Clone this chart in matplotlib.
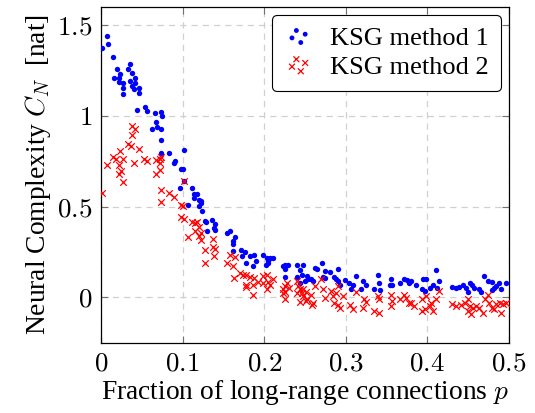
import matplotlib
matplotlib.use("Agg")
import matplotlib.pyplot as plt
from matplotlib.ticker import FuncFormatter

plt.rcParams['font.family'] = ['Liberation Serif', 'DejaVu Serif']
plt.rcParams['mathtext.fontset'] = 'cm'

# KSG method 1 (blue dots)
p1 = [0.007, 0.009, 0.001, 0.015, 0.020, 0.023, 0.016, 0.022, 0.022, 0.027,
      0.027, 0.027, 0.035, 0.033, 0.038, 0.042, 0.036, 0.041, 0.038, 0.040,
      0.046, 0.047, 0.044, 0.054, 0.056, 0.066, 0.073, 0.075, 0.067, 0.068,
      0.062, 0.073, 0.073, 0.073, 0.083, 0.102, 0.091, 0.089, 0.098, 0.100,
      0.102, 0.097, 0.112, 0.114, 0.118, 0.114, 0.120, 0.122, 0.122, 0.120,
      0.106, 0.124, 0.127, 0.129, 0.130, 0.136, 0.140, 0.138, 0.140, 0.155,
      0.158, 0.164, 0.162, 0.162, 0.162, 0.172, 0.176, 0.173, 0.178, 0.182,
      0.186, 0.188, 0.190, 0.199, 0.203, 0.207, 0.205, 0.211, 0.202, 0.205,
      0.223, 0.225, 0.229, 0.225, 0.240, 0.247, 0.244, 0.252, 0.226, 0.250,
      0.244, 0.240, 0.246, 0.254, 0.258, 0.260, 0.262, 0.265, 0.271, 0.274,
      0.281, 0.290, 0.272, 0.275, 0.286, 0.288, 0.290, 0.293, 0.299, 0.304,
      0.309, 0.307, 0.312, 0.321, 0.325, 0.319, 0.335, 0.339, 0.341, 0.342,
      0.356, 0.357, 0.354, 0.366, 0.372, 0.375, 0.378, 0.380, 0.386, 0.393,
      0.395, 0.399, 0.397, 0.403, 0.407, 0.412, 0.411, 0.414, 0.430, 0.435,
      0.439, 0.444, 0.448, 0.450, 0.452, 0.455, 0.457, 0.463, 0.466, 0.470,
      0.475, 0.480, 0.482, 0.479, 0.484, 0.488, 0.490, 0.497]
c1 = [1.441, 1.399, 1.372, 1.326, 1.256, 1.231, 1.207, 1.207, 1.189, 1.183,
      1.156, 1.121, 1.284, 1.258, 1.238, 1.207, 1.194, 1.183, 1.166, 1.147,
      1.152, 1.125, 1.035, 1.048, 1.027, 1.018, 1.020, 1.002, 0.965, 0.941,
      0.929, 0.929, 0.868, 0.798, 0.798, 0.813, 0.754, 0.740, 0.707, 0.707,
      0.639, 0.603, 0.603, 0.571, 0.570, 0.548, 0.538, 0.529, 0.520, 0.505,
      0.511, 0.474, 0.419, 0.414, 0.364, 0.429, 0.407, 0.383, 0.374, 0.355,
      0.368, 0.333, 0.309, 0.295, 0.254, 0.264, 0.249, 0.227, 0.190, 0.227,
      0.172, 0.236, 0.199, 0.231, 0.218, 0.218, 0.199, 0.218, 0.181, 0.190,
      0.172, 0.181, 0.176, 0.154, 0.176, 0.181, 0.150, 0.117, 0.112, 0.090,
      0.081, 0.114, 0.126, 0.103, 0.099, 0.090, 0.163, 0.154, 0.190, 0.145,
      0.139, 0.154, 0.114, 0.108, 0.114, 0.099, 0.090, 0.071, 0.095, 0.081,
      0.066, 0.048, 0.117, 0.090, 0.071, 0.048, 0.044, 0.126, 0.081, 0.040,
      0.103, 0.071, 0.066, 0.077, 0.104, 0.095, 0.077, 0.090, 0.071, 0.044,
      0.103, 0.099, 0.035, 0.053, 0.066, 0.053, 0.150, 0.090, 0.059, 0.053,
      0.059, 0.066, 0.053, 0.029, 0.081, 0.066, 0.053, 0.048, 0.029, 0.117,
      0.090, 0.084, 0.053, 0.040, 0.062, 0.081, 0.044, 0.081]

# KSG method 2 (red crosses)
p2 = [0.038, 0.042, 0.038, 0.023, 0.033, 0.037, 0.046, 0.015, 0.018, 0.027,
      0.022, 0.025, 0.022, 0.007, 0.040, 0.053, 0.056, 0.067, 0.072, 0.073,
      0.072, 0.072, 0.067, 0.027, 0.001, 0.073, 0.083, 0.090, 0.073, 0.098,
      0.100, 0.102, 0.098, 0.102, 0.112, 0.115, 0.118, 0.120, 0.115, 0.122,
      0.120, 0.123, 0.106, 0.127, 0.127, 0.137, 0.140, 0.138, 0.137, 0.158,
      0.164, 0.155, 0.162, 0.163, 0.170, 0.174, 0.178, 0.182, 0.188, 0.178,
      0.178, 0.186, 0.193, 0.199, 0.203, 0.199, 0.205, 0.207, 0.211, 0.203,
      0.186, 0.223, 0.226, 0.228, 0.225, 0.223, 0.226, 0.231, 0.240, 0.242,
      0.244, 0.248, 0.251, 0.240, 0.246, 0.244, 0.251, 0.248, 0.252, 0.258,
      0.260, 0.259, 0.262, 0.270, 0.272, 0.274, 0.282, 0.284, 0.288, 0.290,
      0.286, 0.290, 0.293, 0.297, 0.305, 0.309, 0.312, 0.321, 0.323, 0.325,
      0.339, 0.341, 0.335, 0.341, 0.356, 0.357, 0.356, 0.366, 0.372, 0.374,
      0.378, 0.380, 0.384, 0.394, 0.399, 0.393, 0.397, 0.403, 0.407, 0.405,
      0.411, 0.414, 0.430, 0.435, 0.441, 0.446, 0.450, 0.452, 0.456, 0.450,
      0.454, 0.460, 0.464, 0.468, 0.471, 0.474, 0.476, 0.480, 0.484, 0.482,
      0.489, 0.490, 0.493, 0.497]
c2 = [0.947, 0.927, 0.896, 0.809, 0.844, 0.835, 0.817, 0.773, 0.764, 0.764,
      0.727, 0.699, 0.681, 0.727, 0.740, 0.764, 0.754, 0.758, 0.764, 0.773,
      0.743, 0.703, 0.681, 0.634, 0.575, 0.590, 0.575, 0.553, 0.526, 0.507,
      0.502, 0.639, 0.443, 0.432, 0.414, 0.410, 0.414, 0.388, 0.364, 0.355,
      0.341, 0.319, 0.331, 0.264, 0.190, 0.278, 0.268, 0.227, 0.322, 0.231,
      0.224, 0.190, 0.172, 0.108, 0.136, 0.121, 0.121, 0.114, 0.108, 0.071,
      0.059, 0.071, 0.084, 0.117, 0.121, 0.081, 0.084, 0.066, 0.099, 0.044,
      0.011, 0.048, 0.062, 0.081, 0.029, 0.022, -0.007, 0.053, 0.090, 0.062,
      0.048, 0.044, 0.029, 0.022, 0.022, -0.026, -0.020, 0.007, -0.011, 0.016,
      -0.029, -0.044, 0.062, 0.099, 0.044, -0.002, 0.035, 0.007, 0.026, 0.062,
      -0.029, -0.044, -0.057, 0.007, -0.044, -0.066, 0.029, -0.057, -0.011, -0.026,
      0.007, -0.011, -0.075, -0.084, 0.016, -0.020, -0.048, -0.011, 0.016, -0.002,
      -0.029, -0.033, -0.048, -0.011, 0.007, -0.075, -0.066, -0.048, -0.075, -0.029,
      -0.011, 0.035, -0.038, -0.048, -0.044, -0.029, -0.011, -0.048, -0.057, -0.075,
      -0.093, -0.048, -0.057, -0.084, -0.011, 0.016, -0.029, -0.057, -0.038, -0.066,
      -0.029, -0.084, -0.038, -0.029]

xticks = [0, 0.1, 0.2, 0.3, 0.4, 0.5]
yticks = [0, 0.5, 1, 1.5]

fig = plt.figure(figsize=(5.35, 4.13), dpi=100)
ax = fig.add_axes([0.189, 0.17, 0.762, 0.813])

ax.scatter(p1, c1, s=15, marker='o', color='blue', linewidths=0,
           label='KSG method 1', zorder=3)
ax.scatter(p2, c2, s=22, marker='x', color='red', linewidths=0.9,
           label='KSG method 2', zorder=3)

ax.set_xlim(0, 0.5)
ax.set_ylim(-0.25, 1.6)
ax.set_xticks(xticks)
ax.set_yticks(yticks)
fmt = FuncFormatter(lambda v, pos: '$%g$' % v)
ax.xaxis.set_major_formatter(fmt)
ax.yaxis.set_major_formatter(fmt)
ax.tick_params(direction='in', length=5, width=0.8, color='#707070',
               top=True, right=True, labelsize=19.5, pad=6)
ax.grid(True, color='#d0d0d0', linestyle=(0, (5, 4)), linewidth=0.9)
ax.set_axisbelow(True)
for s in ax.spines.values():
    s.set_linewidth(0.9)

ax.set_xlabel('Fraction of long-range connections $p$', fontsize=19.8, labelpad=1)
ax.set_ylabel('Neural Complexity $C_N$  [nat]', fontsize=19.8, labelpad=3)

leg = ax.legend(loc='upper right', fontsize=19, scatterpoints=4,
                scatteryoffsets=[0.4, 0.8, 0.15, 0.6], handlelength=1.1,
                borderaxespad=0.3, framealpha=1, edgecolor='black',
                handletextpad=0.65, labelspacing=0.2, borderpad=0.45,
                markerscale=0.9)
leg.get_frame().set_linewidth(0.8)

fig.savefig('out.png', dpi=100)
